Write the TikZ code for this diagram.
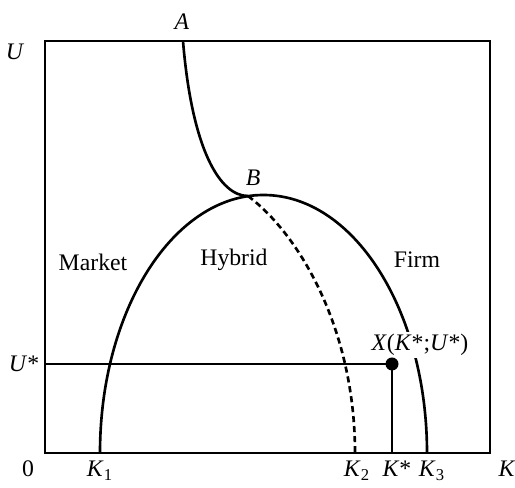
\documentclass[tikz,border=0pt]{standalone}
\usepackage{fontspec}
\setmainfont{Liberation Serif}
\usetikzlibrary{calc}

\begin{document}
\begin{tikzpicture}[every node/.style={font=\fontsize{13.5}{16}\selectfont}, frame/.style={line width=1.5pt}, curve/.style={line width=1.5pt}, dashcurve/.style={line width=1.5pt, dash pattern=on 3.5pt off 2.2pt}, ticklabel/.style={anchor=base}]
  \useasboundingbox (-0.9,-0.7) rectangle (9.4,9.06);
  \coordinate (origin) at (0,0);
  \coordinate (corner) at (8.9,8.24);
  \coordinate (k1) at (1.10,0);
  \coordinate (k2) at (6.20,0);
  \coordinate (kstar) at (6.94,0);
  \coordinate (ustar) at (0,1.78);
  \coordinate (a) at (2.76,8.24);
  \coordinate (b) at (4.06,5.14);
  \draw[frame] (origin) rectangle (corner);
  \draw[curve] (k1) arc[start angle=180, end angle=0, x radius=3.27, y radius=5.16];
  \draw[curve] (a) .. controls (2.94,6.06) and (3.50,5.14) .. (b);
  \draw[dashcurve] (b) .. controls (5.10,4.36) and (6.20,2.46) .. (k2);
  \node[fill=white, inner sep=1pt] (xlabel) at (7.50,2.16) {\textit{X}(\textit{K}*;\textit{U}*)};
  \node[circle, fill=black, inner sep=0pt, minimum size=0.26cm] (xpt) at (6.94,1.78) {};
  \draw[frame] (ustar) -- (xpt.center);
  \draw[frame] (xpt.center) -- (kstar);
  % axis labels
  \node (ulabel) at (-0.60,8.02) {\textit{U}};
  \node (ustarlabel) at (-0.42,1.78) {\textit{U}*};
  \node[ticklabel] (zero) at (-0.34,-0.48) {0};
  \node[ticklabel] (k1label) at (1.10,-0.48) {\textit{K}\textsubscript{1}};
  \node[ticklabel] (k2label) at (6.24,-0.48) {\textit{K}\textsubscript{2}};
  \node[ticklabel] (kstarlabel) at (7.04,-0.48) {\textit{K}*};
  \node[ticklabel] (k3label) at (7.74,-0.48) {\textit{K}\textsubscript{3}};
  \node[ticklabel] (klabel) at (9.24,-0.48) {\textit{K}};
  % regions
  \node (alabel) at (2.74,8.62) {\textit{A}};
  \node (blabel) at (4.16,5.50) {\textit{B}};
  \node (market) at (0.96,3.82) {Market};
  \node (hybrid) at (3.78,3.86) {Hybrid};
  \node (firm) at (7.44,3.86) {Firm};
\end{tikzpicture}
\end{document}
